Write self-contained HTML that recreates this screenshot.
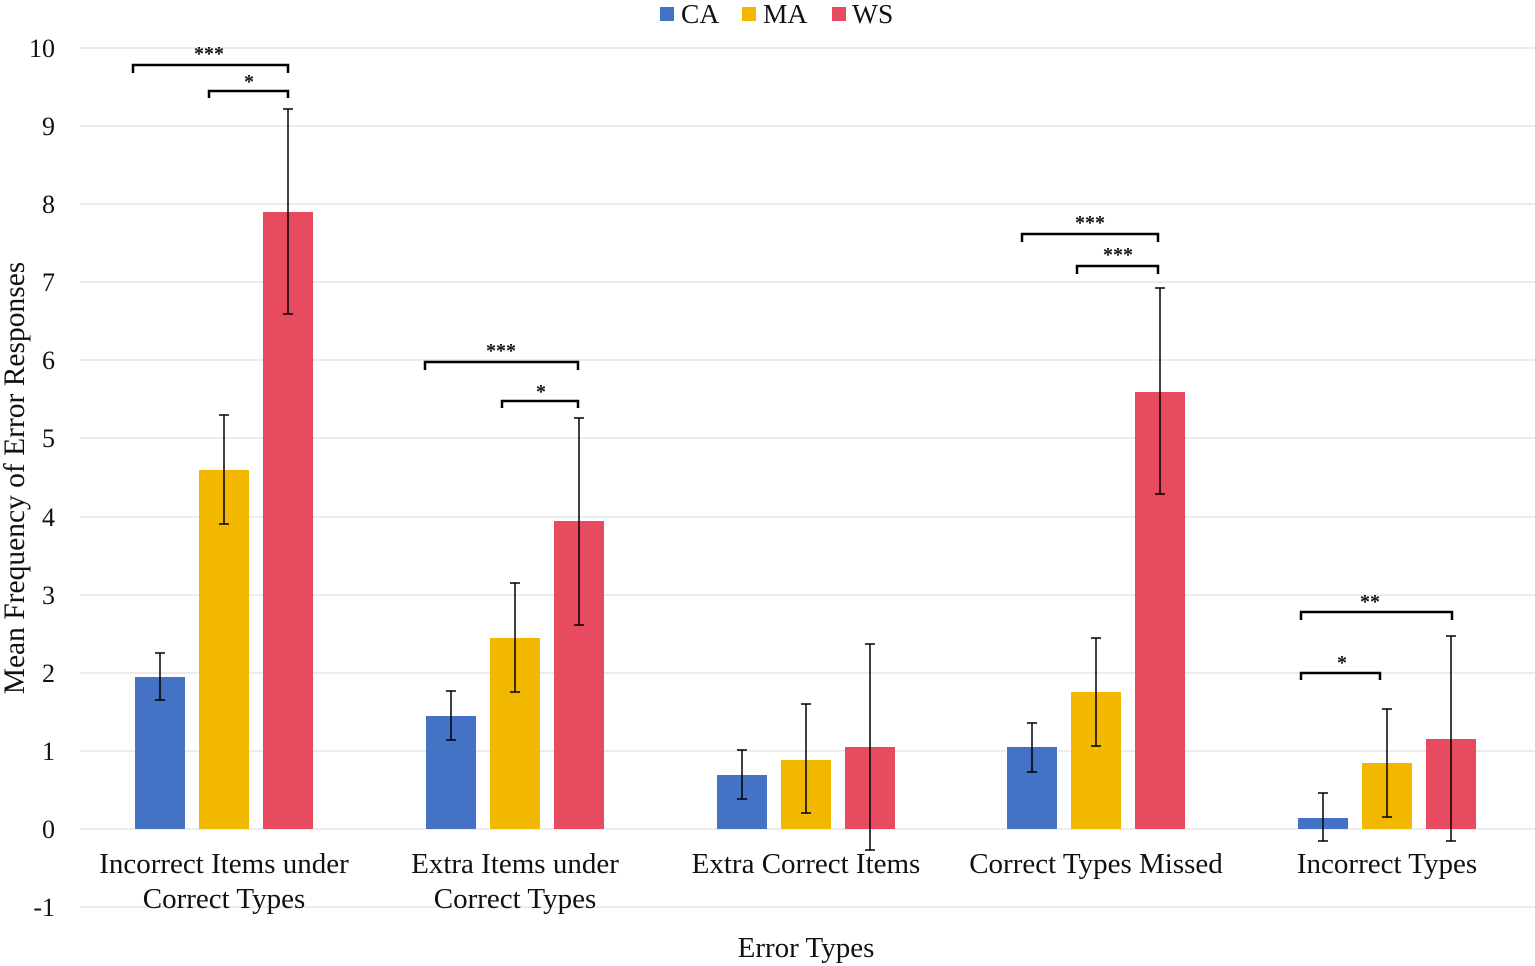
<!DOCTYPE html>
<html><head><meta charset="utf-8"><style>body{margin:0;background:#fff}svg{display:block}text{font-family:"Liberation Serif",serif;fill:#111}</style></head><body>
<svg width="1535" height="966" viewBox="0 0 1535 966">
<g stroke="#d9d9d9" stroke-width="1">
<line x1="80" x2="1535" y1="48" y2="48"/><line x1="80" x2="1535" y1="126" y2="126"/><line x1="80" x2="1535" y1="204" y2="204"/><line x1="80" x2="1535" y1="282" y2="282"/><line x1="80" x2="1535" y1="360" y2="360"/><line x1="80" x2="1535" y1="438" y2="438"/><line x1="80" x2="1535" y1="517" y2="517"/><line x1="80" x2="1535" y1="595" y2="595"/><line x1="80" x2="1535" y1="673" y2="673"/><line x1="80" x2="1535" y1="751" y2="751"/><line x1="80" x2="1535" y1="829" y2="829"/><line x1="80" x2="1535" y1="907" y2="907"/>
</g>
<g font-size="26" text-anchor="end">
<text x="55" y="57">10</text><text x="55" y="135">9</text><text x="55" y="213">8</text><text x="55" y="291">7</text><text x="55" y="369">6</text><text x="55" y="447">5</text><text x="55" y="526">4</text><text x="55" y="604">3</text><text x="55" y="682">2</text><text x="55" y="760">1</text><text x="55" y="838">0</text><text x="55" y="916">-1</text>
</g>
<text transform="translate(24,478) rotate(-90)" font-size="29.5" text-anchor="middle">Mean Frequency of Error Responses</text>
<g>
<rect x="135" y="677" width="50" height="152" fill="#4472C4"/><rect x="199" y="470" width="50" height="359" fill="#F2B800"/><rect x="263" y="212" width="50" height="617" fill="#E84A5F"/>
<rect x="426" y="716" width="50" height="113" fill="#4472C4"/><rect x="490" y="638" width="50" height="191" fill="#F2B800"/><rect x="554" y="521" width="50" height="308" fill="#E84A5F"/>
<rect x="717" y="775" width="50" height="54" fill="#4472C4"/><rect x="781" y="760" width="50" height="69" fill="#F2B800"/><rect x="845" y="747" width="50" height="82" fill="#E84A5F"/>
<rect x="1007" y="747" width="50" height="82" fill="#4472C4"/><rect x="1071" y="692" width="50" height="137" fill="#F2B800"/><rect x="1135" y="392" width="50" height="437" fill="#E84A5F"/>
<rect x="1298" y="818" width="50" height="11" fill="#4472C4"/><rect x="1362" y="763" width="50" height="66" fill="#F2B800"/><rect x="1426" y="739" width="50" height="90" fill="#E84A5F"/>
</g>
<g stroke="#000" stroke-width="1.5" fill="none">
<path d="M160 653V700M155 653h10M155 700h10"/><path d="M224 415V524M219 415h10M219 524h10"/><path d="M288 109V314M283 109h10M283 314h10"/>
<path d="M451 691V740M446 691h10M446 740h10"/><path d="M515 583V692M510 583h10M510 692h10"/><path d="M579 418V625M574 418h10M574 625h10"/>
<path d="M742 750V799M737 750h10M737 799h10"/><path d="M806 704V813M801 704h10M801 813h10"/><path d="M870 644V850M865 644h10M865 850h10"/>
<path d="M1032 723V772M1027 723h10M1027 772h10"/><path d="M1096 638V746M1091 638h10M1091 746h10"/><path d="M1160 288V494M1155 288h10M1155 494h10"/>
<path d="M1323 793V841M1318 793h10M1318 841h10"/><path d="M1387 709V817M1382 709h10M1382 817h10"/><path d="M1451 636V841M1446 636h10M1446 841h10"/>
</g>
<g stroke="#000" stroke-width="2.5" fill="none">
<path d="M133 73V65H288V73"/><path d="M209 98V91H288V98"/>
<path d="M425 370V362H578V370"/><path d="M502 408V401H578V408"/>
<path d="M1022 242V234H1158V242"/><path d="M1077 274V266H1158V274"/>
<path d="M1301 620V612H1452V620"/><path d="M1301 680V673H1380V680"/>
</g>
<g font-size="20" font-weight="bold" text-anchor="middle">
<text x="209" y="60">***</text><text x="249" y="88">*</text>
<text x="501" y="357">***</text><text x="541" y="398">*</text>
<text x="1090" y="229">***</text><text x="1118" y="261">***</text>
<text x="1370" y="608">**</text><text x="1342" y="669">*</text>
</g>
<g font-size="29" text-anchor="middle">
<text x="224" y="873">Incorrect Items under</text><text x="224" y="908">Correct Types</text>
<text x="515" y="873">Extra Items under</text><text x="515" y="908">Correct Types</text>
<text x="806" y="873">Extra Correct Items</text>
<text x="1096" y="873">Correct Types Missed</text>
<text x="1387" y="873">Incorrect Types</text>
<text x="806" y="957">Error Types</text>
</g>
<g font-size="27.5">
<rect x="660" y="7" width="14" height="14" fill="#4472C4"/><text x="681" y="23">CA</text>
<rect x="742" y="7" width="14" height="14" fill="#F2B800"/><text x="763" y="23">MA</text>
<rect x="832" y="7" width="14" height="14" fill="#E84A5F"/><text x="852" y="23">WS</text>
</g>
</svg>
</body></html>
